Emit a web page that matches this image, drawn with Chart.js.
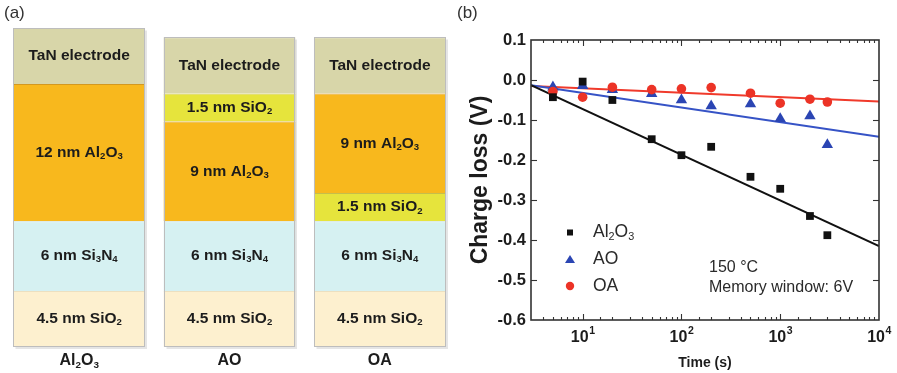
<!DOCTYPE html>
<html>
<head>
<meta charset="utf-8">
<script src="https://cdn.jsdelivr.net/npm/chart.js@4.4.0/dist/chart.umd.min.js"></script>
<style>
  html, body { margin: 0; padding: 0; background: #fff; }
  #wrap { position: relative; width: 897px; height: 373px; overflow: hidden; }
  #stack { position: absolute; left: 0; top: 0; }
  #loss { position: absolute; left: 455px; top: 0; }
</style>
</head>
<body>
<div id="wrap">
  <canvas id="stack" width="455" height="373"></canvas>
  <canvas id="loss" width="442" height="373"></canvas>
</div>
<script>
// ---------- panel (a): gate stacks, listed bottom layer first ----------
const stackNames = ['Al_2O_3', 'AO', 'OA'];
const layerText = [
  ['4.5 nm SiO_2', '6 nm Si_3N_4', '12 nm Al_2O_3', 'TaN electrode'],
  ['4.5 nm SiO_2', '6 nm Si_3N_4', '9 nm Al_2O_3', '1.5 nm SiO_2', 'TaN electrode'],
  ['4.5 nm SiO_2', '6 nm Si_3N_4', '1.5 nm SiO_2', '9 nm Al_2O_3', 'TaN electrode'],
];
const layerKind = [
  ['SiO2', 'Si3N4', 'Al2O3', 'TaN'],
  ['SiO2', 'Si3N4', 'Al2O3', 'SiO2thin', 'TaN'],
  ['SiO2', 'Si3N4', 'SiO2thin', 'Al2O3', 'TaN'],
];
// drawn height of each layer as it appears in the figure (not to scale with nm)
const layerHeight = [
  [4.5, 5.6, 11, 4.5],
  [4.5, 5.6, 8, 2.25, 4.5],
  [4.5, 5.6, 2.25, 8, 4.5],
];

// ---------- panel (b): charge loss at 150 C ----------
const times = [5, 10, 20, 50, 100, 200, 500, 1000, 2000, 3000];
const lossAl2O3 = [-0.043, -0.004, -0.05, -0.148, -0.188, -0.167, -0.242, -0.272, -0.34, -0.388];
const lossAO = [-0.018, -0.014, -0.024, -0.034, -0.05, -0.065, -0.06, -0.097, -0.09, -0.162];
const lossOA = [-0.029, -0.043, -0.018, -0.024, -0.022, -0.019, -0.033, -0.058, -0.048, -0.055];
// fitted lines (end points)
const fitTimes = [3, 10000];
const fitAl2O3 = [-0.013, -0.415];
const fitAO = [-0.013, -0.142];
const fitOA = [-0.015, -0.054];
const timeDecades = [1, 2, 3, 4];
const noteLines = ['150 \u00B0C', 'Memory window: 6V'];

const FONT = '"Liberation Sans", Arial, Helvetica, sans-serif';
Chart.defaults.font.family = FONT;

const layerColors = { TaN: '#d8d6a9', Al2O3: '#f8b81d', SiO2thin: '#e6e43c', Si3N4: '#d6f1f2', SiO2: '#fdf0cf' };
const layerEdge = { TaN: '#c8c49a', Al2O3: '#d39820', SiO2thin: '#c6be4a', Si3N4: '#c4e0e2', SiO2: '#ece0c0' };

// 'Al_2O_3' -> text with subscripts
function drawRich(ctx, s, x, y, size, weight, align) {
  const parts = s.split(/(_\d)/).filter(p => p).map(p => p[0] === '_' ? [p.slice(1), 1] : [p, 0]);
  const font = sz => `${weight} ${sz}px ${FONT}`;
  const subSize = size * 0.62;
  let w = 0;
  parts.forEach(([t, sub]) => { ctx.font = font(sub ? subSize : size); w += ctx.measureText(t).width; });
  let cx = align === 'left' ? x : x - w / 2;
  ctx.textAlign = 'left';
  ctx.textBaseline = 'middle';
  parts.forEach(([t, sub]) => {
    ctx.font = font(sub ? subSize : size);
    ctx.fillText(t, cx, sub ? y + size * 0.24 : y);
    cx += ctx.measureText(t).width;
  });
}

const nLevels = Math.max(...layerHeight.map(c => c.length));
const stackTop = Math.max(...layerHeight.map(c => c.reduce((a, b) => a + b, 0)));

const stackLabels = {
  id: 'stackLabels',
  afterDatasetsDraw(chart) {
    const { ctx, scales: { y } } = chart;
    ctx.save();
    const base = chart.getDatasetMeta(0).data;
    base.forEach((bar, c) => {
      const total = layerHeight[c].reduce((a, b) => a + b, 0);
      const top = Math.round(y.getPixelForValue(total)) + 0.5;
      const bottom = Math.round(y.getPixelForValue(0)) - 0.5;
      const l = Math.round(bar.x - bar.width / 2) + 0.5;
      const r = Math.round(bar.x + bar.width / 2) - 0.5;
      ctx.strokeStyle = 'rgba(0,0,0,0.10)';
      ctx.lineWidth = 2;
      ctx.beginPath(); ctx.moveTo(r + 1.5, top + 2); ctx.lineTo(r + 1.5, bottom + 1.5); ctx.lineTo(l + 2, bottom + 1.5); ctx.stroke();
      ctx.strokeStyle = '#bdbdbd';
      ctx.lineWidth = 1;
      ctx.strokeRect(l, top, r - l, bottom - top);
      ctx.fillStyle = '#1c1c1c';
      drawRich(ctx, stackNames[c], bar.x, 361, 16, 'bold');
    });
    for (let i = 0; i < nLevels; i++) {
      chart.getDatasetMeta(i).data.forEach((bar, c) => {
        const txt = layerText[c][i];
        if (!txt) return;
        ctx.fillStyle = '#1c1c1c';
        drawRich(ctx, txt, bar.x, (bar.y + bar.base) / 2, 15.5, 'bold');
      });
    }
    ctx.fillStyle = '#333';
    ctx.font = `17px ${FONT}`;
    ctx.textBaseline = 'middle';
    ctx.textAlign = 'left';
    ctx.fillText('(a)', 4, 13);
    ctx.restore();
  }
};

new Chart(document.getElementById('stack'), {
  type: 'bar',
  data: {
    labels: stackNames,
    datasets: Array.from({ length: nLevels }, (_, i) => ({
      data: layerHeight.map(col => col[i] ?? null),
      backgroundColor: layerKind.map(col => layerColors[col[i]] || 'transparent'),
      borderColor: layerKind.map(col => layerEdge[col[i]] || 'transparent'),
      borderWidth: { top: 1, right: 0, bottom: 0, left: 0 },
      categoryPercentage: 1,
      barPercentage: 0.878,
    })),
  },
  options: {
    responsive: false,
    animation: false,
    layout: { padding: { left: 4, right: 0, top: 28, bottom: 26 } },
    plugins: { legend: { display: false }, tooltip: { enabled: false } },
    scales: {
      x: { display: false, stacked: true },
      y: { display: false, stacked: true, min: 0, max: stackTop },
    },
  },
  plugins: [stackLabels],
});

// ---------- panel (b) ----------
const isPow10 = v => Math.abs(Math.log10(v) - Math.round(Math.log10(v))) < 1e-9;

const axisMarks = {
  id: 'axisMarks',
  afterDraw(chart) {
    const { ctx, chartArea: a, scales: { x, y } } = chart;
    ctx.save();
    ctx.strokeStyle = '#333';
    ctx.lineWidth = 1.1;
    const seg = (x1, y1, x2, y2) => { ctx.beginPath(); ctx.moveTo(x1, y1); ctx.lineTo(x2, y2); ctx.stroke(); };
    x.ticks.forEach(t => {
      const px = Math.round(x.getPixelForValue(t.value)) + 0.5;
      if (px < a.left + 2 || px > a.right - 2) return;
      const len = isPow10(t.value) ? 6 : 3;
      seg(px, a.bottom, px, a.bottom - len);
      seg(px, a.top, px, a.top + len);
    });
    y.ticks.forEach(t => {
      const py = Math.round(y.getPixelForValue(t.value)) + 0.5;
      if (py < a.top + 2 || py > a.bottom - 2) return;
      const major = Math.round(t.value * 100) % 10 === 0;
      const len = major ? 6 : 3.5;
      seg(a.left, py, a.left + len, py);
      seg(a.right, py, a.right - len, py);
    });
    ctx.lineWidth = 1.6;
    ctx.strokeRect(a.left, a.top, a.right - a.left, a.bottom - a.top);

    // decade labels 10^n
    ctx.fillStyle = '#1c1c1c';
    ctx.textAlign = 'left';
    ctx.textBaseline = 'middle';
    timeDecades.forEach(p => {
      const px = x.getPixelForValue(Math.pow(10, p));
      ctx.font = `bold 16px ${FONT}`;
      const w1 = ctx.measureText('10').width;
      ctx.font = `bold 10.5px ${FONT}`;
      const w2 = ctx.measureText(String(p)).width;
      const left = px - (w1 + w2) / 2;
      ctx.font = `bold 16px ${FONT}`;
      ctx.fillText('10', left, a.bottom + 18);
      ctx.font = `bold 10.5px ${FONT}`;
      ctx.fillText(String(p), left + w1 + 0.5, a.bottom + 11);
    });

    // legend
    const rows = [
      { ds: chart.data.datasets[0], y: 232.5 },
      { ds: chart.data.datasets[1], y: 259.5 },
      { ds: chart.data.datasets[2], y: 286 },
    ];
    const mx = a.left + 39;
    rows.forEach(({ ds, y: ry }) => {
      ctx.fillStyle = ds.backgroundColor;
      ctx.beginPath();
      if (ds.pointStyle === 'rect') ctx.rect(mx - 3, ry - 3, 6, 6);
      else if (ds.pointStyle === 'triangle') { ctx.moveTo(mx, ry - 4.5); ctx.lineTo(mx + 5, ry + 3.5); ctx.lineTo(mx - 5, ry + 3.5); ctx.closePath(); }
      else ctx.arc(mx, ry, 4.2, 0, Math.PI * 2);
      ctx.fill();
      ctx.fillStyle = '#2a2a2a';
      drawRich(ctx, ds.label, a.left + 62, ry, 17.5, 'normal', 'left');
    });

    ctx.fillStyle = '#2a2a2a';
    ctx.font = `16px ${FONT}`;
    ctx.textAlign = 'left';
    noteLines.forEach((s, i) => ctx.fillText(s, a.left + 178, 268 + i * 19.5));

    ctx.fillStyle = '#333';
    ctx.font = `17px ${FONT}`;
    ctx.fillText('(b)', 2, 13);
    ctx.restore();
  }
};

const toPts = (xs, ys) => xs.map((t, i) => ({ x: t, y: ys[i] }));

new Chart(document.getElementById('loss'), {
  type: 'scatter',
  data: {
    datasets: [
      { label: 'Al_2O_3', data: toPts(times, lossAl2O3), pointStyle: 'rect', pointRadius: 5.5, backgroundColor: '#111', borderWidth: 0, order: 0 },
      { label: 'AO', data: toPts(times, lossAO), pointStyle: 'triangle', pointRadius: 6.6, backgroundColor: '#2b45b3', borderWidth: 0, order: 2 },
      { label: 'OA', data: toPts(times, lossOA), pointStyle: 'circle', pointRadius: 4.8, backgroundColor: '#ec3326', borderWidth: 0, order: 1 },
      { label: 'fit Al2O3', data: toPts(fitTimes, fitAl2O3), showLine: true, pointRadius: 0, borderColor: '#111', borderWidth: 2, order: 3 },
      { label: 'fit AO', data: toPts(fitTimes, fitAO), showLine: true, pointRadius: 0, borderColor: '#3653c6', borderWidth: 2, order: 4 },
      { label: 'fit OA', data: toPts(fitTimes, fitOA), showLine: true, pointRadius: 0, borderColor: '#f03a2b', borderWidth: 2, order: 5 },
    ],
  },
  options: {
    responsive: false,
    animation: false,
    layout: { padding: { left: 0, right: 18, top: 40, bottom: 0 } },
    plugins: { legend: { display: false }, tooltip: { enabled: false } },
    scales: {
      x: {
        type: 'logarithmic',
        min: 3,
        max: 10000,
        grid: { display: false, drawTicks: false },
        border: { display: false },
        ticks: { display: false },
        afterFit: s => { s.height = 53; },
        title: { display: true, text: 'Time (s)', color: '#1c1c1c', font: { size: 14, weight: 'bold' }, padding: { top: 0, bottom: 1.6 } },
      },
      y: {
        min: -0.6,
        max: 0.1,
        grid: { display: false, drawTicks: false },
        border: { display: false },
        ticks: {
          stepSize: 0.05,
          includeBounds: false,
          padding: 5,
          color: '#1c1c1c',
          font: { size: 16.5, weight: 'bold' },
          callback: v => {
            const r = Math.round(v * 100);
            if (r % 10 !== 0) return '';
            return r === 0 ? '0.0' : (r / 100).toFixed(1);
          },
        },
        afterFit: s => { s.width = 76; },
        title: { display: true, text: 'Charge loss (V)', color: '#1c1c1c', font: { size: 23, weight: 'bold' }, padding: { top: 12, bottom: 0 } },
      },
    },
  },
  plugins: [axisMarks],
});
</script>
</body>
</html>
